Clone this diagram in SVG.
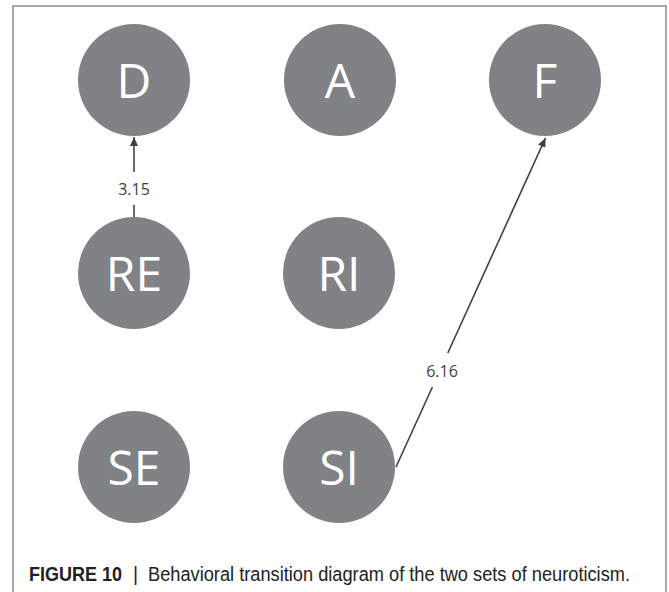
<svg xmlns="http://www.w3.org/2000/svg" width="669" height="592" viewBox="0 0 669 592">
<style>
.node circle { fill: #818286; }
.node text { fill: #ffffff; font-family: "Open Sans", "Noto Sans", sans-serif; font-size: 48px; text-anchor: middle; }
.edge { stroke: #404040; stroke-width: 1.6; fill: none; }
.elabel { fill: #404040; font-family: "Open Sans", "Noto Sans", sans-serif; font-size: 16px; text-anchor: middle; }
.cap { fill: #222222; font-family: "Liberation Sans", Arial, sans-serif; font-size: 19.5px; }
</style>
<defs>
<marker id="arr" markerUnits="userSpaceOnUse" markerWidth="10" markerHeight="8" refX="9" refY="4" orient="auto">
<path d="M0,0 L9,4 L0,8 Z" fill="#404040"/>
</marker>
</defs>
<rect x="0" y="0" width="669" height="592" fill="#ffffff"/>
<path d="M13,592 V6 H666 V592" fill="none" stroke="#8c8c8c" stroke-width="1.5"/>
<g id="connectors">
<g id="edge-RE-D">
<line class="edge" x1="134" y1="218" x2="134" y2="205"/>
<line class="edge" x1="134" y1="172" x2="134" y2="137" marker-end="url(#arr)"/>
<text class="elabel" x="134" y="195">3.15</text>
</g>
<g id="edge-SI-F">
<line class="edge" x1="396" y1="467" x2="432.4" y2="387"/>
<line class="edge" x1="447.8" y1="353" x2="545.5" y2="138" marker-end="url(#arr)"/>
<text class="elabel" x="442" y="377">6.16</text>
</g>
</g>
<g id="node-D" class="node"><circle cx="134" cy="80" r="56"/><text x="134" y="98">D</text></g>
<g id="node-A" class="node"><circle cx="340" cy="80" r="56"/><text x="340" y="98">A</text></g>
<g id="node-F" class="node"><circle cx="545" cy="80" r="56"/><text x="545" y="98">F</text></g>
<g id="node-RE" class="node"><circle cx="134" cy="273" r="56"/><text x="134" y="291">RE</text></g>
<g id="node-RI" class="node"><circle cx="339" cy="273" r="56"/><text x="339" y="291">RI</text></g>
<g id="node-SE" class="node"><circle cx="134" cy="467" r="56"/><text x="134" y="485">SE</text></g>
<g id="node-SI" class="node"><circle cx="339" cy="467" r="56"/><text x="339" y="485">SI</text></g>
<g id="caption">
<text class="cap" x="29" y="581" font-size="21" font-weight="bold" textLength="93" lengthAdjust="spacingAndGlyphs">FIGURE 10</text>
<text class="cap" x="133" y="581" fill="#333333">|</text>
<text class="cap" x="148" y="581" textLength="482" lengthAdjust="spacingAndGlyphs">Behavioral transition diagram of the two sets of neuroticism.</text>
</g>
</svg>
